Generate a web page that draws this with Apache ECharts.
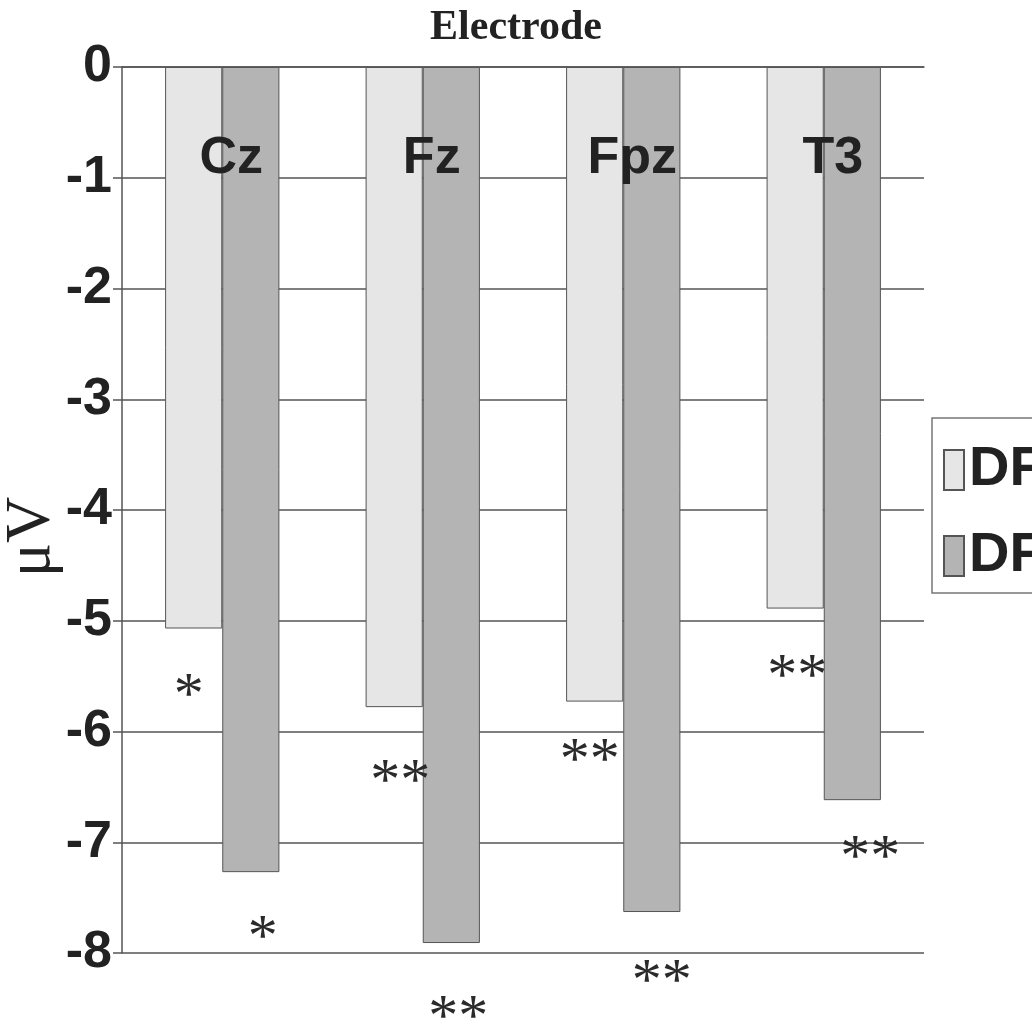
<!DOCTYPE html>
<html>
<head>
<meta charset="utf-8">
<script src="https://cdn.jsdelivr.net/npm/echarts@6/dist/echarts.min.js"></script>
<style>
  html, body { margin: 0; padding: 0; background: #fff; }
  #chart { width: 1032px; height: 1030px; }
</style>
</head>
<body>
<div id="chart"></div>
<script>
// Mean amplitude (µV) per electrode for the two conditions
const electrodes = ['Cz', 'Fz', 'Fpz', 'T3'];
const seriesNames = ['DF1', 'DF2'];
const valuesA = [-5.07, -5.78, -5.73, -4.89];
const valuesB = [-7.27, -7.91, -7.63, -6.62];
// significance markers under each bar
const marksA = ['*', '**', '**', '**'];
const marksB = ['*', '**', '**', '**'];
const yTicks = [0, -1, -2, -3, -4, -5, -6, -7, -8];

// placement of the significance markers relative to each bar end [dx, gap]
const markPlaceA = [[-5, 61], [6, 68], [-5, 53], [2, 62]];
const markPlaceB = [[12, 59], [7, 68], [10, 63], [18, 51]];

const narrow = '"Liberation Sans Narrow", "Arial Narrow", "Liberation Sans", Arial, sans-serif';
const serif = '"Liberation Serif", "Times New Roman", serif';
const ink = '#222';

function barData(values, marks, place) {
  return values.map((v, i) => ({
    value: v,
    label: {
      show: true,
      position: 'bottom',
      formatter: marks[i],
      distance: place[i][1] - 22,
      offset: [place[i][0], 0],
      fontFamily: serif,
      fontSize: 60,
      color: '#2a2a2a'
    }
  }));
}

const chart = echarts.init(document.getElementById('chart'), null, { renderer: 'canvas' });

chart.setOption({
  animation: false,
  backgroundColor: '#fff',
  title: {
    text: 'Electrode',
    left: 'center',
    top: 2,
    textStyle: { fontFamily: serif, fontWeight: 'bold', fontSize: 42, color: ink }
  },
  legend: {
    orient: 'vertical',
    left: 932,
    top: 418,
    data: seriesNames,
    icon: 'rect',
    itemWidth: 20,
    itemHeight: 40,
    itemGap: 28,
    itemGap: 28,
    itemTextGap: 12,
    padding: [23, 60, 8, 11],
    borderColor: '#777',
    borderWidth: 1.5,
    textStyle: { fontFamily: narrow, fontWeight: 'bold', fontSize: 56, lineHeight: 58, color: ink }
  },
  graphic: [{
    type: 'text',
    x: 32,
    y: 537,
    rotation: Math.PI / 2,
    style: {
      text: 'μV',
      font: '64px ' + serif,
      fill: ink,
      textAlign: 'center',
      textVerticalAlign: 'middle'
    }
  }],
  grid: { left: 122, top: 67, width: 802, height: 886 },
  xAxis: {
    type: 'category',
    position: 'top',
    data: electrodes,
    z: 10,
    axisLine: { lineStyle: { color: '#555', width: 1.5 } },
    axisTick: { inside: true, length: 18, lineStyle: { color: '#555', width: 1.5 } },
    axisLabel: {
      inside: true,
      margin: 66,
      padding: [0, 0, 0, 18],
      fontFamily: narrow,
      fontWeight: 'bold',
      fontSize: 52,
      color: ink
    },
    splitLine: { show: false }
  },
  yAxis: {
    type: 'value',
    min: -8,
    max: 0,
    interval: 1,
    axisLine: { show: true, lineStyle: { color: '#555', width: 1.5 } },
    axisTick: { show: true, length: 9, lineStyle: { color: '#555', width: 1.5 } },
    axisLabel: {
      margin: 10,
      fontFamily: narrow,
      fontWeight: 'bold',
      fontSize: 52,
      color: ink,
      formatter: v => (yTicks.indexOf(v) >= 0 ? String(v) : '')
    },
    splitLine: { show: true, lineStyle: { color: '#555', width: 1.5 } }
  },
  series: [
    {
      name: seriesNames[0],
      type: 'bar',
      barGap: '0%',
      barCategoryGap: '43%',
      itemStyle: { color: '#e6e6e6', borderColor: '#555', borderWidth: 1 },
      data: barData(valuesA, marksA, markPlaceA)
    },
    {
      name: seriesNames[1],
      type: 'bar',
      barGap: '0%',
      barCategoryGap: '43%',
      itemStyle: { color: '#b4b4b4', borderColor: '#555', borderWidth: 1 },
      data: barData(valuesB, marksB, markPlaceB)
    }
  ]
});
</script>
</body>
</html>
